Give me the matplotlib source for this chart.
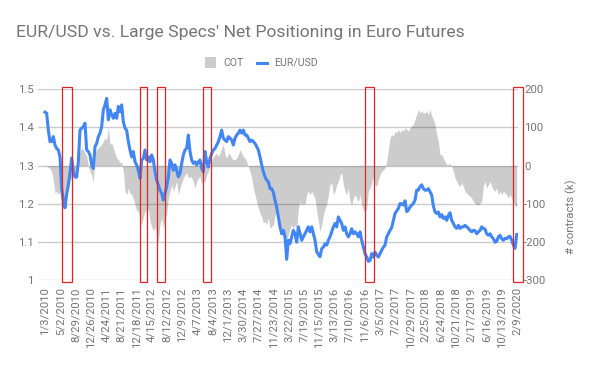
import matplotlib
matplotlib.use("Agg")
import matplotlib.pyplot as plt
from matplotlib.patches import Rectangle
from matplotlib.lines import Line2D
import pandas as pd
import numpy as np

plt.rcParams['font.family'] = ['Roboto', 'DejaVu Sans']

# ---------------- data ----------------
start_date = "2010-01-03"
end_date = "2020-02-09"

eur_usd = [
    1.440, 1.437, 1.393, 1.363, 1.363, 1.376, 1.354, 1.345, 1.341, 1.323,
    1.240, 1.210, 1.190, 1.225, 1.250, 1.280, 1.320, 1.285, 1.270, 1.270,
    1.310, 1.393, 1.398, 1.402, 1.411, 1.341, 1.337, 1.328, 1.302, 1.293,
    1.350, 1.358, 1.376, 1.385, 1.402, 1.446, 1.459, 1.476, 1.420, 1.446,
    1.433, 1.424, 1.437, 1.424, 1.455, 1.441, 1.459, 1.415, 1.398, 1.393,
    1.363, 1.341, 1.323, 1.337, 1.310, 1.302, 1.288, 1.267, 1.315, 1.319,
    1.341, 1.315, 1.323, 1.310, 1.328, 1.315, 1.284, 1.262, 1.249, 1.236,
    1.227, 1.210, 1.227, 1.245, 1.271, 1.315, 1.306, 1.288, 1.302, 1.288,
    1.271, 1.280, 1.306, 1.328, 1.341, 1.345, 1.380, 1.337, 1.315, 1.306,
    1.310, 1.302, 1.310, 1.315, 1.293, 1.284, 1.337, 1.310, 1.297, 1.319,
    1.332, 1.341, 1.345, 1.354, 1.363, 1.376, 1.393, 1.372, 1.367, 1.363,
    1.376, 1.372, 1.367, 1.354, 1.372, 1.380, 1.385, 1.393, 1.385, 1.393,
    1.380, 1.380, 1.372, 1.363, 1.367, 1.363, 1.358, 1.350, 1.341, 1.323,
    1.302, 1.284, 1.271, 1.262, 1.258, 1.240, 1.240, 1.230, 1.210, 1.192,
    1.166, 1.140, 1.122, 1.131, 1.114, 1.055, 1.105, 1.096, 1.114, 1.131,
    1.122, 1.100, 1.140, 1.122, 1.105, 1.114, 1.122, 1.131, 1.140, 1.127,
    1.140, 1.122, 1.105, 1.075, 1.068, 1.062, 1.083, 1.087, 1.096, 1.092,
    1.105, 1.114, 1.127, 1.140, 1.149, 1.140, 1.166, 1.157, 1.149, 1.131,
    1.140, 1.122, 1.114, 1.122, 1.135, 1.122, 1.127, 1.122, 1.114, 1.127,
    1.105, 1.087, 1.070, 1.061, 1.050, 1.052, 1.070, 1.061, 1.074, 1.066,
    1.061, 1.070, 1.079, 1.087, 1.092, 1.114, 1.122, 1.131, 1.138, 1.157,
    1.175, 1.182, 1.188, 1.201, 1.200, 1.197, 1.208, 1.180, 1.184, 1.192,
    1.197, 1.201, 1.210, 1.236, 1.236, 1.245, 1.250, 1.240, 1.236, 1.236,
    1.240, 1.232, 1.223, 1.195, 1.179, 1.175, 1.179, 1.166, 1.172, 1.162,
    1.166, 1.157, 1.170, 1.177, 1.157, 1.149, 1.140, 1.136, 1.144, 1.136,
    1.140, 1.140, 1.144, 1.140, 1.136, 1.131, 1.127, 1.131, 1.130, 1.122,
    1.127, 1.131, 1.140, 1.136, 1.134, 1.122, 1.118, 1.122, 1.114, 1.109,
    1.100, 1.102, 1.114, 1.118, 1.109, 1.105, 1.110, 1.109, 1.114, 1.115,
    1.105, 1.092, 1.084, 1.120,
]

cot = [
    2, 0, -4, -8, -15, -37, -72, -67, -76, -67,
    -111, -111, -94, -67, -50, -37, -32, -24, -15, -6,
    11, 38, 46, 42, 33, 25, -2, -15, -24, -45,
    33, 42, 46, 51, 55, 64, 73, 68, 99, 55,
    60, 46, 33, 20, 16, 7, 11, -15, -67, -76,
    -59, -72, -76, -85, -102, -120, -116, -146, -155, -133,
    -116, -129, -111, -146, -159, -172, -159, -185, -199, -155,
    -137, -164, -137, -129, -85, -67, -50, -67, -54, -41,
    -76, -59, -45, -32, -24, -19, -32, -28, -32, -41,
    -59, -41, -32, -28, -50, -37, -45, -24, -15, -2,
    11, 24, 29, 33, 24, 33, 46, 55, 29, 20,
    33, 29, 20, 16, 16, 20, 29, 42, 33, 24,
    20, 11, -2, -15, -32, -59, -76, -94, -111, -124,
    -133, -150, -146, -155, -137, -164, -159, -155, -129, -120,
    -137, -155, -172, -190, -199, -190, -181, -164, -155, -164,
    -155, -164, -111, -94, -102, -98, -102, -76, -67, -76,
    -67, -76, -85, -120, -146, -172, -155, -129, -111, -102,
    -76, -50, -45, -76, -67, -50, -41, -24, -19, -50,
    -67, -76, -59, -94, -102, -85, -76, -85, -94, -76,
    -102, -116, -124, -111, -67, -59, -45, -28, -50, -54,
    -37, -24, -15, -11, -5, 11, 42, 73, 81, 77,
    90, 86, 95, 86, 95, 90, 99, 95, 90, 99,
    103, 108, 121, 134, 147, 138, 143, 138, 138, 143,
    134, 147, 130, 121, 108, 81, 64, 29, 29, 20,
    11, 3, 3, 7, -2, -15, -32, -41, -50, -54,
    -45, -54, -67, -72, -76, -80, -85, -94, -98, -102,
    -102, -98, -94, -54, -41, -59, -50, -41, -54, -63,
    -67, -59, -76, -67, -76, -67, -72, -76, -85, -76,
    -85, -94, -102, -111,
]

tick_labels = [
    "1/3/2010", "5/2/2010", "8/29/2010", "12/26/2010", "4/24/2011", "8/21/2011",
    "12/18/2011", "4/15/2012", "8/12/2012", "12/9/2012", "4/7/2013", "8/4/2013",
    "12/1/2013", "3/30/2014", "7/27/2014", "11/23/2014", "3/22/2015", "7/19/2015",
    "11/15/2015", "3/13/2016", "7/10/2016", "11/6/2016", "3/5/2017", "7/2/2017",
    "10/29/2017", "2/25/2018", "6/24/2018", "10/21/2018", "2/17/2019", "6/16/2019",
    "10/13/2019", "2/9/2020",
]

left_ticks = [1.0, 1.1, 1.2, 1.3, 1.4, 1.5]
left_tick_labels = ["1", "1.1", "1.2", "1.3", "1.4", "1.5"]
right_ticks = [-300, -200, -100, 0, 100, 200]

# highlighted periods (weeks after start)
box_start_weeks = [19.4, 106.0, 125.1, 176.1, 357.7, 523.2]
box_end_weeks = [30.6, 114.5, 133.6, 185.1, 367.8, 534.4]

# ---------------- figure ----------------
W, H = 600, 371
fig = plt.figure(figsize=(W / 100, H / 100), dpi=100)

def fx(px):
    return px / W

def fy(py):
    return 1 - py / H

ax_left, ax_right = 38, 518
ax_top, ax_bot = 89.2, 280.4
ax = fig.add_axes([fx(ax_left), fy(ax_bot), (ax_right - ax_left) / W, (ax_bot - ax_top) / H])
ax2 = ax.twinx()

dates = pd.date_range(start_date, end_date, periods=len(eur_usd))
t0 = pd.Timestamp(start_date)

TXT = "#757575"
GRID = "#cccccc"

# COT area on right axis
ax2.fill_between(dates, 0, cot, color="black", alpha=0.2, linewidth=0, zorder=2)
for v in right_ticks:
    ax2.axhline(v, color=GRID, lw=1.0, zorder=1)
ax2.set_ylim(-300, 200)
ax2.set_yticks(right_ticks)
ax2.set_yticklabels([str(v) for v in right_ticks])

# EUR/USD line on left axis
ax.plot(dates, eur_usd, color="#4285f4", lw=2.2, zorder=3, solid_joinstyle="round")
ax.set_ylim(1.0, 1.5)
ax.set_yticks(left_ticks)
ax.set_yticklabels(left_tick_labels)
ax.set_zorder(ax2.get_zorder() + 1)
ax.patch.set_visible(False)

# x axis
span_days = (pd.Timestamp(end_date) - t0).days
px_per_day = (516.7 - 45.0) / span_days
ax.set_xlim(t0 - pd.Timedelta(days=(45.0 - ax_left) / px_per_day),
            pd.Timestamp(end_date) + pd.Timedelta(days=(ax_right - 516.7) / px_per_day))
tick_dates = pd.to_datetime(tick_labels, format="%m/%d/%Y")
ax.set_xticks(tick_dates)
ax.set_xticklabels(tick_labels, rotation=90, ha="center", va="top")

for a in (ax, ax2):
    for s in a.spines.values():
        s.set_visible(False)
    a.tick_params(length=0, colors=TXT, labelsize=8.2)
ax.tick_params(axis="y", pad=3)
ax.tick_params(axis="x", pad=5)
ax2.tick_params(axis="y", pad=4.3)

# highlight boxes
for s, e in zip(box_start_weeks, box_end_weeks):
    x0 = t0 + pd.Timedelta(weeks=s)
    x1 = t0 + pd.Timedelta(weeks=e)
    ax.add_patch(Rectangle((x0, 0.9958), x1 - x0, 1.505 - 0.9958, fill=False,
                           edgecolor="#e02424", lw=0.9, clip_on=False, zorder=5))

# right axis title
fig.text(fx(571), fy(217), "# contracts (k)", rotation=90, ha="center", va="center",
         color=TXT, fontsize=8.2)

# title
fig.text(fx(16.5), fy(37.3), "EUR/USD vs. Large Specs' Net Positioning in Euro Futures",
         ha="left", va="baseline", color=TXT, fontsize=12.6)

# legend
fig.add_artist(Rectangle((fx(205.3), fy(68)), 10.5 / W, 11 / H, transform=fig.transFigure,
                         facecolor="#cccccc", edgecolor="none"))
fig.text(fx(223), fy(62.5), "COT", ha="left", va="center", color=TXT, fontsize=7.6)
fig.add_artist(Line2D([fx(256.7), fx(266.7)], [fy(62.5), fy(62.5)], transform=fig.transFigure,
                      color="#4285f4", lw=2.2))
fig.text(fx(274), fy(62.5), "EUR/USD", ha="left", va="center", color=TXT, fontsize=7.6)

fig.savefig("out.png", dpi=100, facecolor="white")
